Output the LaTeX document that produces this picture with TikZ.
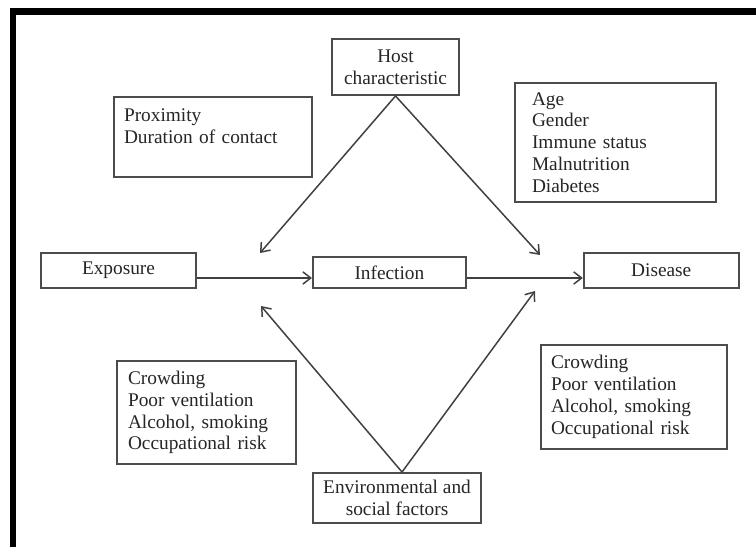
\documentclass[tikz,border=0pt]{standalone}
\usepackage{fontspec}
\setmainfont{Liberation Serif}
\usetikzlibrary{arrows.meta,positioning}

\begin{document}
\begin{tikzpicture}[
    x=0.02cm, y=-0.02cm,
    >={Straight Barb[length=4.5pt,width=7pt]},
    squarenode/.style={rectangle, draw=black!70, line width=1.1pt, fill=white, text=black!85, font=\fontsize{11}{12.4}\selectfont, align=center, inner sep=0pt},
    listnode/.style={squarenode, align=left, inner xsep=0.2cm},
    link/.style={->, line width=0.85pt, draw=black!75}
]
    \useasboundingbox (0,0) rectangle (756,547);
    \draw[line width=0.13cm] (13,547) -- (13,11.5) -- (756,11.5);

    % Nodes
    \node[squarenode, minimum width=2.54cm, minimum height=1.12cm] (host) at (395.5,67) {Host\\characteristic};
    \node[listnode, text width=3.56cm, minimum height=1.6cm] (prox) at (213,137) {Proximity\\Duration of contact\\\mbox{}};
    \node[listnode, text width=3.34cm, inner xsep=0.34cm, minimum height=2.38cm] (age) at (615.5,142.5) {Age\\Gender\\Immune status\\Malnutrition\\Diabetes};

    \node[squarenode, minimum width=3.1cm, minimum height=0.7cm] (expo) at (118.5,270.5) {Exposure};
    \node[squarenode, minimum width=3.06cm, minimum height=0.62cm, right=2.30cm of expo, yshift=-0.04cm] (inf) {Infection};
    \node[squarenode, minimum width=3.1cm, minimum height=0.7cm, right=2.32cm of inf, yshift=0.04cm] (dis) {Disease};

    \node[listnode, text width=3.14cm, inner xsep=0.22cm, minimum height=2.06cm] (crowdl) at (206.5,412.5) {Crowding\\Poor ventilation\\Alcohol, smoking\\Occupational risk};
    \node[listnode, text width=3.32cm, minimum height=2.08cm] (crowdr) at (634,397) {Crowding\\Poor ventilation\\Alcohol, smoking\\Occupational risk};
    \node[squarenode, minimum width=3.36cm, minimum height=1.0cm] (env) at (397,498) {Environmental and\\social factors};

    % Free ends of the slanted arrows
    \coordinate (hostl) at (260,253);
    \coordinate (hostr) at (540,255);
    \coordinate (envl) at (261,306);
    \coordinate (envr) at (535,291);

    % Edges
    \draw[link] ([yshift=-0.15cm]expo.east) -- ([yshift=-0.15cm]expo.east -| inf.west);
    \draw[link] ([yshift=-0.11cm]inf.east) -- ([yshift=-0.11cm]inf.east -| dis.west);
    \draw[link] (host.south) -- (hostl);
    \draw[link] (host.south) -- (hostr);
    \draw[link] ([xshift=0.1cm]env.north) -- (envl);
    \draw[link] ([xshift=0.1cm]env.north) -- (envr);

\end{tikzpicture}
\end{document}
